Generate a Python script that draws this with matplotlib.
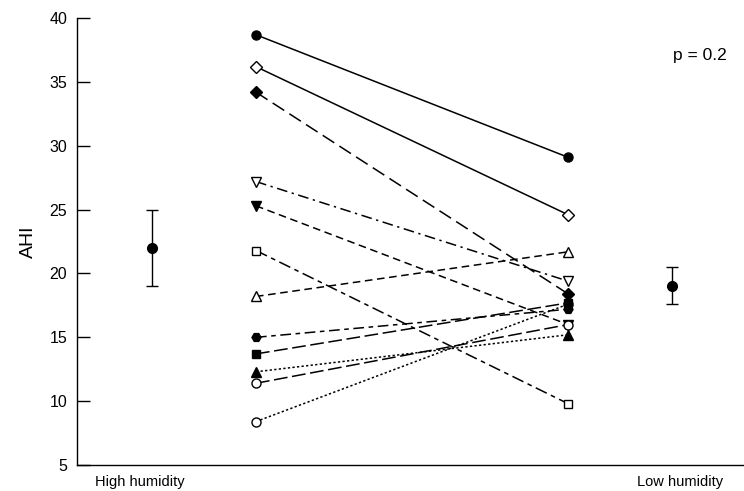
import matplotlib
matplotlib.use("Agg")
import matplotlib.pyplot as plt

plt.rcParams['font.family'] = ['Liberation Sans', 'DejaVu Sans']

# Individual subjects: AHI at high humidity and low humidity
high = [38.7, 36.2, 34.2, 27.2, 25.3, 21.8, 18.2, 15.0, 13.7, 12.3, 11.4, 8.4]
low = [29.1, 24.6, 18.4, 19.4, 16.0, 9.8, 21.7, 17.2, 17.7, 15.2, 16.0, 17.6]
markers = ['o', 'D', 'D', 'v', 'v', 's', '^', 'H', 's', '^', 'o', 'o']
filled = [True, False, True, False, True, False, False, True, True, True, False, False]
styles = ['-', '-', (0, (9, 4)), (0, (7, 3, 1.5, 3)), (0, (5, 3)),
          (0, (8, 3, 3, 3)), (0, (5, 3)), (0, (7, 3, 3, 3)), (0, (9, 3)),
          (0, (1.5, 1.5)), (0, (9, 3)), (0, (1.5, 1.5))]
msizes = [6.5, 6.0, 6.0, 7.0, 7.0, 6.0, 7.0, 6.5, 6.0, 7.0, 6.5, 6.5]

# Group means with error bars
mean_vals = [22.0, 19.0]
err_low = [3.0, 1.4]
err_high = [3.0, 1.5]

cat_labels = ['High humidity', 'Low humidity']
p_text = 'p = 0.2'

fig = plt.figure(figsize=(7.44, 4.91), dpi=100)
ax = fig.add_axes([0.1035, 0.053, 0.8965, 0.910])

x_high, x_low = 2.0, 5.0
x_mean_high, x_mean_low = 1.0, 6.0

order = [11, 4, 10, 0, 1, 2, 3, 5, 6, 7, 8, 9]
for z, i in enumerate(order):
    ax.plot([x_high, x_low], [high[i], low[i]], color='black', lw=1.1,
            linestyle=styles[i], marker=markers[i], markersize=msizes[i],
            markerfacecolor='black' if filled[i] else 'white',
            markeredgecolor='black', markeredgewidth=1.0, zorder=3 + z)

ax.errorbar([x_mean_high, x_mean_low], mean_vals, yerr=[err_low, err_high],
            fmt='o', color='black', markersize=7, capsize=4.5, elinewidth=1.0,
            capthick=1.0)

ax.set_ylim(5, 40)
ax.set_xlim(0.28, 6.69)
ax.set_yticks([5, 10, 15, 20, 25, 30, 35, 40])
ax.set_xticks([0.885, 6.08])
ax.set_xticklabels(cat_labels, fontsize=10.5)
ax.tick_params(axis='x', length=0, pad=7)
ax.tick_params(axis='y', direction='in', length=9.5, width=1.0, labelsize=11.5, pad=7)
ax.spines['top'].set_visible(False)
ax.spines['right'].set_visible(False)
ax.spines['left'].set_linewidth(1.0)
ax.spines['bottom'].set_linewidth(1.0)
ax.set_ylabel('AHI', fontsize=14, labelpad=9)

ax.text(0.894, 0.917, p_text, transform=ax.transAxes, fontsize=12.5, ha='left', va='center')

fig.savefig('out.png', dpi=100)
